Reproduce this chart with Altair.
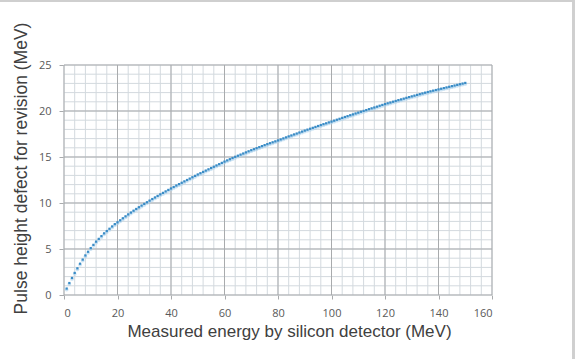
import altair as alt
import pandas as pd

# ---- data ----
energy = list(range(1, 151))
defect = [
    0.70, 1.30, 1.85, 2.40, 2.90, 3.40, 3.85, 4.30, 4.70, 5.10,
    5.45, 5.80, 6.10, 6.40, 6.70, 6.95, 7.20, 7.45, 7.70, 7.90,
    8.12, 8.34, 8.55, 8.76, 8.96, 9.16, 9.35, 9.54, 9.72, 9.90,
    10.08, 10.26, 10.43, 10.60, 10.77, 10.94, 11.10, 11.26, 11.42, 11.58,
    11.74, 11.90, 12.05, 12.20, 12.35, 12.50, 12.65, 12.80, 12.95, 13.10,
    13.24, 13.38, 13.52, 13.66, 13.80, 13.94, 14.08, 14.22, 14.36, 14.50,
    14.63, 14.76, 14.89, 15.02, 15.14, 15.26, 15.38, 15.50, 15.62, 15.74,
    15.85, 15.96, 16.07, 16.18, 16.29, 16.40, 16.50, 16.60, 16.70, 16.80,
    16.91, 17.02, 17.13, 17.24, 17.34, 17.45, 17.55, 17.66, 17.76, 17.87,
    17.97, 18.07, 18.17, 18.27, 18.37, 18.47, 18.57, 18.66, 18.76, 18.85,
    18.95, 19.05, 19.15, 19.25, 19.35, 19.44, 19.54, 19.63, 19.73, 19.82,
    19.92, 20.01, 20.10, 20.20, 20.29, 20.38, 20.47, 20.57, 20.66, 20.75,
    20.84, 20.92, 21.01, 21.09, 21.18, 21.26, 21.34, 21.43, 21.51, 21.59,
    21.67, 21.75, 21.83, 21.91, 21.99, 22.06, 22.14, 22.21, 22.28, 22.35,
    22.42, 22.49, 22.56, 22.63, 22.70, 22.77, 22.84, 22.91, 22.98, 23.05,
]

x_major = [0, 20, 40, 60, 80, 100, 120, 140, 160]
x_minor = [0, 4, 8, 12, 16, 20, 24, 28, 32, 36, 40, 44, 48, 52, 56, 60, 64, 68,
           72, 76, 80, 84, 88, 92, 96, 100, 104, 108, 112, 116, 120, 124, 128,
           132, 136, 140, 144, 148, 152, 156, 160]
y_major = [0, 5, 10, 15, 20, 25]
y_minor = list(range(0, 26))

x_title = "Measured energy by silicon detector (MeV)"
y_title = "Pulse height defect for revision (MeV)"

W, H = 428, 230

minor_col = "#d3d9de"
major_col = "#a9abad"

xs = alt.Scale(domain=[0, 160], nice=False, zero=False)
ys = alt.Scale(domain=[0, 25], nice=False, zero=False)

xaxis = alt.Axis(values=x_major, grid=False, domain=False, ticks=True,
                 tickSize=4, tickColor=major_col, labelPadding=8, titlePadding=5,
                 titleFontSize=17, titleX=225)
yaxis = alt.Axis(values=y_major, grid=False, domain=False, ticks=True,
                 tickSize=5, tickColor=major_col, labelPadding=8, titlePadding=8,
                 titleFontSize=17.5, titleY=103)

df = pd.DataFrame({"energy": energy, "defect": defect})
dxmin = pd.DataFrame({"energy": x_minor})
dymin = pd.DataFrame({"defect": y_minor})
dxmaj = pd.DataFrame({"energy": x_major})
dymaj = pd.DataFrame({"defect": y_major})


def X():
    return alt.X("energy:Q", scale=xs, axis=xaxis, title=x_title)


def Y():
    return alt.Y("defect:Q", scale=ys, axis=yaxis, title=y_title)


vmin = alt.Chart(dxmin).mark_rule(color=minor_col, strokeWidth=1).encode(x=X())
hmin = alt.Chart(dymin).mark_rule(color=minor_col, strokeWidth=1).encode(y=Y())
vmaj = alt.Chart(dxmaj).mark_rule(color=major_col, strokeWidth=1).encode(x=X())
hmaj = alt.Chart(dymaj).mark_rule(color=major_col, strokeWidth=1).encode(y=Y())

glow = alt.Chart(df).mark_circle(color="#a8d0ec", size=14, opacity=0.6).encode(
    x=X(), y=Y(), yOffset=alt.value(1))

pts = alt.Chart(df).mark_square(color="#3a8cc6", size=5, opacity=1).encode(
    x=X(), y=Y())

frame_right = alt.Chart(df).mark_rule(color="#cfcfcf", strokeWidth=2).encode(
    x=alt.value(509.5), y=alt.value(-65), y2=alt.value(300))
frame_top = alt.Chart(df).mark_rule(color="#cfcfcf", strokeWidth=2).encode(
    x=alt.value(-70), x2=alt.value(510), y=alt.value(-64))

chart = alt.layer(vmin, hmin, vmaj, hmaj, glow, pts, frame_right, frame_top).properties(
    width=W, height=H,
    autosize=alt.AutoSizeParams(type="none"),
    padding={"left": 64, "top": 65, "right": 87, "bottom": 64},
    background="white",
).configure_view(stroke=None).configure_axis(
    labelFont="Open Sans", labelFontSize=11, labelColor="#595959",
    titleFont="Liberation Sans", titleColor="#404040",
    titleFontWeight="normal",
)

chart.save("out.html", embed_options={"renderer": "svg", "actions": False})
